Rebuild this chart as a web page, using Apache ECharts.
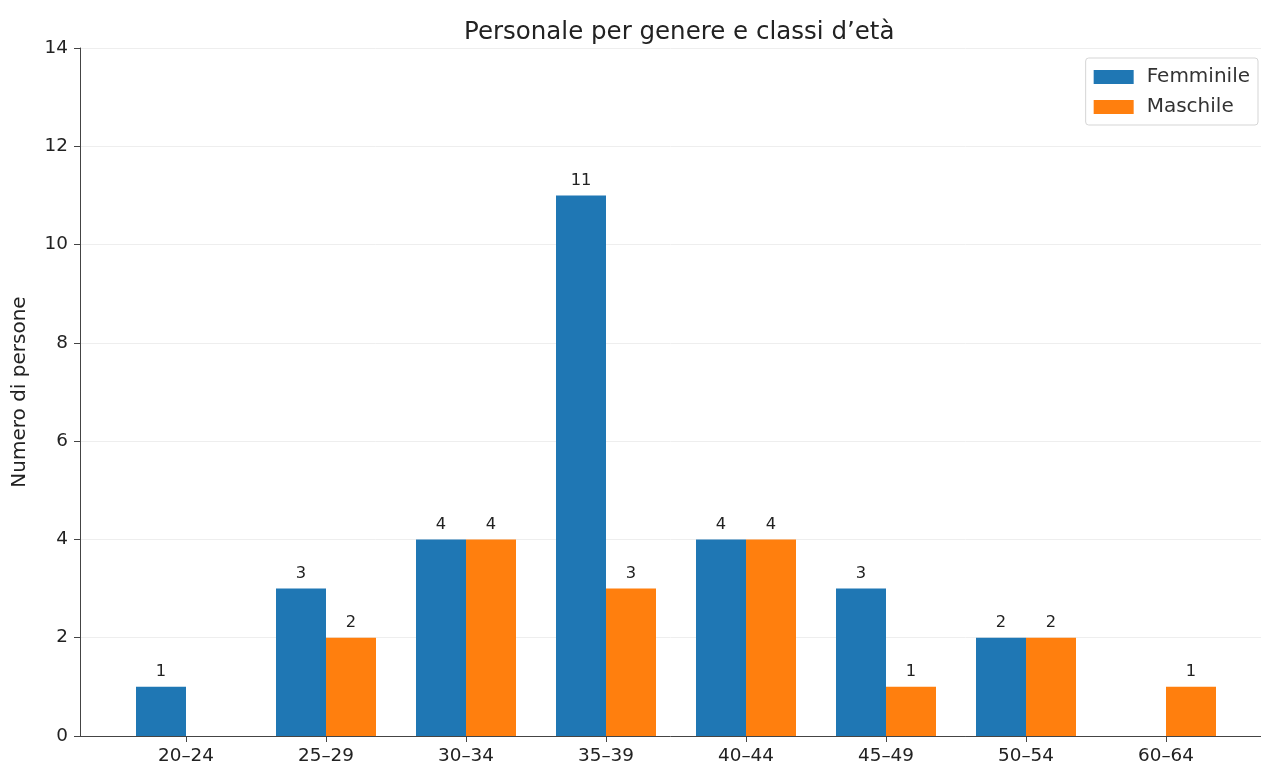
<!DOCTYPE html>
<html>
<head>
<meta charset="utf-8">
<script src="https://cdn.jsdelivr.net/npm/echarts@6/dist/echarts.min.js"></script>
<style>
html,body{margin:0;padding:0;background:#fff;}
#chart{width:1261px;height:769px;}
</style>
</head>
<body>
<div id="chart"></div>
<script>
const categories = ['20–24','25–29','30–34','35–39','40–44','45–49','50–54','60–64'];
const femminile = [1, 3, 4, 11, 4, 3, 2, '-'];
const maschile = ['-', 2, 4, 3, 4, 1, 2, 1];
const yTicks = [0, 2, 4, 6, 8, 10, 12, 14];

const FONT = 'DejaVu Sans';
const chart = echarts.init(document.getElementById('chart'), null, {renderer: 'canvas'});
const labelCfg = {show: true, position: 'top', distance: 7, color: '#222', fontSize: 16.3, fontFamily: FONT};
chart.setOption({
  animation: false,
  textStyle: {fontFamily: FONT},
  title: {
    text: 'Personale per genere e classi d’età',
    left: 459, top: 15,
    textStyle: {fontFamily: FONT, fontSize: 24.5, fontWeight: 'normal', color: '#222'}
  },
  legend: {
    right: 3, top: 58,
    orient: 'vertical',
    icon: 'rect',
    itemWidth: 40, itemHeight: 14, itemGap: 10,
    padding: [9, 8, 8, 8],
    borderColor: '#d5d5d5', borderWidth: 1, borderRadius: 3,
    backgroundColor: '#fff',
    textStyle: {fontFamily: FONT, fontSize: 20, color: '#333', padding: [0, 0, 0, 8]},
    data: ['Femminile', 'Maschile']
  },
  grid: [
    {left: 80, right: 0, top: 48, bottom: 33, containLabel: false},
    {left: 116, width: 1120, top: 48, bottom: 33, containLabel: false}
  ],
  xAxis: [
    {gridIndex: 0, type: 'value', min: 0, max: 1, show: true,
     axisLine: {show: true, lineStyle: {color: '#444', width: 1}},
     axisTick: {show: false}, axisLabel: {show: false}, splitLine: {show: false}},
    {gridIndex: 1, type: 'category', data: categories, boundaryGap: true,
     axisLine: {show: false},
     axisTick: {show: true, alignWithLabel: true, length: 6, lineStyle: {color: '#444'}},
     axisLabel: {fontFamily: FONT, fontSize: 18.4, color: '#222', margin: 11}}
  ],
  yAxis: [
    {gridIndex: 0, type: 'value', min: 0, max: 14, interval: 2,
     name: 'Numero di persone', nameLocation: 'middle', nameGap: 50,
     nameTextStyle: {fontFamily: FONT, fontSize: 20, color: '#222'},
     axisLine: {show: true, lineStyle: {color: '#444', width: 1}},
     axisTick: {show: true, length: 6, lineStyle: {color: '#444'}},
     axisLabel: {fontFamily: FONT, fontSize: 18.4, color: '#222', margin: 12,
       formatter: v => yTicks.includes(v) ? String(v) : ''},
     splitLine: {show: true, lineStyle: {color: '#eeeeee', width: 1}}},
    {gridIndex: 1, type: 'value', min: 0, max: 14, interval: 2, show: false,
     splitLine: {show: false}}
  ],
  series: [
    {name: 'Femminile', type: 'bar', xAxisIndex: 1, yAxisIndex: 1, data: femminile,
     barWidth: 50, barGap: '0%', itemStyle: {color: '#1f77b4'}, label: labelCfg},
    {name: 'Maschile', type: 'bar', xAxisIndex: 1, yAxisIndex: 1, data: maschile,
     barWidth: 50, barGap: '0%', itemStyle: {color: '#ff7f0e'}, label: labelCfg}
  ]
});
</script>
</body>
</html>
